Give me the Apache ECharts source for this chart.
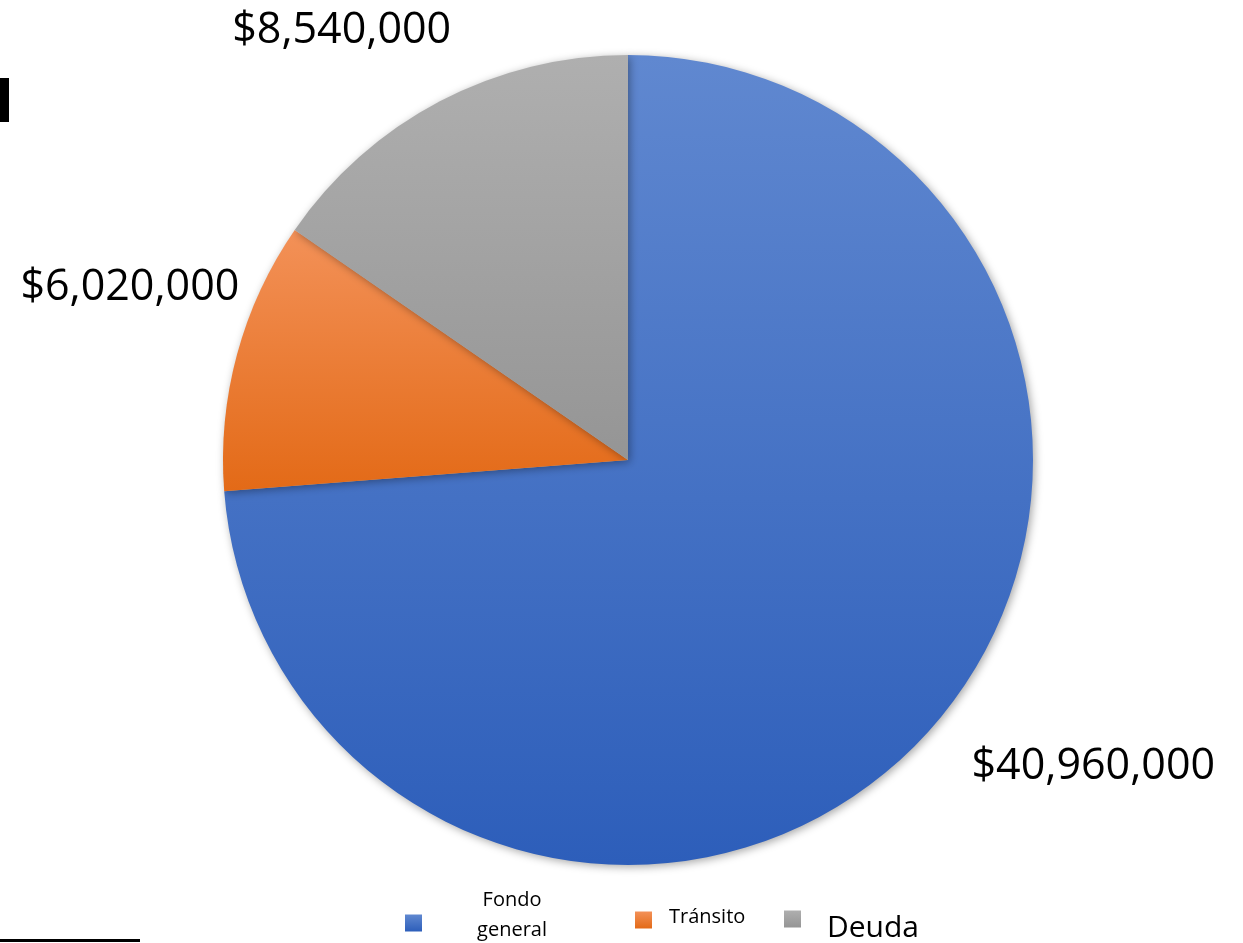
<!DOCTYPE html>
<html>
<head>
<meta charset="utf-8">
<script src="https://cdn.jsdelivr.net/npm/echarts@6/dist/echarts.min.js"></script>
<style>
  html, body { margin: 0; padding: 0; background: #fff; }
  #main { width: 1243px; height: 943px; }
</style>
</head>
<body>
<div id="main"></div>
<script>
// datos del presupuesto
var categorias = ['Fondo general', 'Tránsito', 'Deuda'];
var valores = [40960000, 6020000, 8540000];
var coloresArriba = ['#6088d0', '#f39158', '#afafaf'];
var coloresAbajo = ['#2d5eba', '#e36a17', '#959595'];
// ajuste fino de las etiquetas
var desplazamientos = [[34, 25], [17, -64], [21, -62]];

var myChart = echarts.init(document.getElementById('main'));

function formatoDinero(v) {
    return '$' + v.toString().replace(/\B(?=(\d{3})+(?!\d))/g, ',');
}

var data = [];
for (var i = 0; i < categorias.length; i++) {
    data.push({
        name: categorias[i],
        value: valores[i],
        itemStyle: {
            color: {
                type: 'linear', x: 0, y: 0, x2: 0, y2: 1,
                colorStops: [
                    {offset: 0, color: coloresArriba[i]},
                    {offset: 1, color: coloresAbajo[i]}
                ]
            }
        }
    });
}

function leyenda(nombre, pos, rich, pad) {
    var l = {
        data: [nombre],
        padding: 0,
        orient: 'horizontal',
        itemWidth: 17,
        itemHeight: 17,
        icon: 'rect',
        selectedMode: false,
        formatter: function (n) {
            if (n === 'Fondo general') return '{a|Fondo}\n{a|general}';
            return '{a|' + n + '}';
        },
        textStyle: {
            fontFamily: 'Open Sans',
            color: '#000',
            padding: pad,
            rich: {a: rich}
        }
    };
    for (var k in pos) l[k] = pos[k];
    return l;
}

var option = {
    backgroundColor: '#fff',
    animation: false,
    legend: [
        leyenda('Fondo general', {left: 405, top: 890}, {fontSize: 20, lineHeight: 30, width: 170, align: 'center', fontFamily: 'Open Sans', color: '#000'}, [0, 0, 16, 0]),
        leyenda('Tránsito', {left: 635, top: 907}, {fontSize: 20, lineHeight: 28, fontFamily: 'Open Sans', color: '#000'}, [0, 0, 6, 12]),
        leyenda('Deuda', {left: 784, bottom: 0}, {fontSize: 30, lineHeight: 28, fontFamily: 'Open Sans', color: '#000'}, [18, 0, 0, 21])
    ],
    graphic: [
        {type: 'rect', left: 0, top: 78, shape: {width: 9, height: 44}, style: {fill: '#000'}},
        {type: 'rect', left: 0, top: 939, shape: {width: 140, height: 3}, style: {fill: '#000'}}
    ],
    series: [
        {
            type: 'pie',
            center: [628, 460],
            radius: 405,
            startAngle: 90,
            clockwise: true,
            avoidLabelOverlap: false,
            data: data,
            itemStyle: {
                borderWidth: 0,
                shadowBlur: 8,
                shadowColor: 'rgba(0,0,0,0.35)',
                shadowOffsetX: 2,
                shadowOffsetY: 2
            },
            label: {
                show: true,
                position: 'outside',
                formatter: function (p) { return formatoDinero(p.value); },
                fontFamily: 'Open Sans',
                fontSize: 43,
                color: '#000'
            },
            labelLine: {show: false, length: 10, length2: 0},
            labelLayout: function (params) {
                var d = desplazamientos[params.dataIndex];
                return {dx: d[0], dy: d[1]};
            },
            emphasis: {disabled: true}
        }
    ]
};

myChart.setOption(option);
window.addEventListener('resize', function () {
    myChart.resize();
});
</script>
</body>
</html>
